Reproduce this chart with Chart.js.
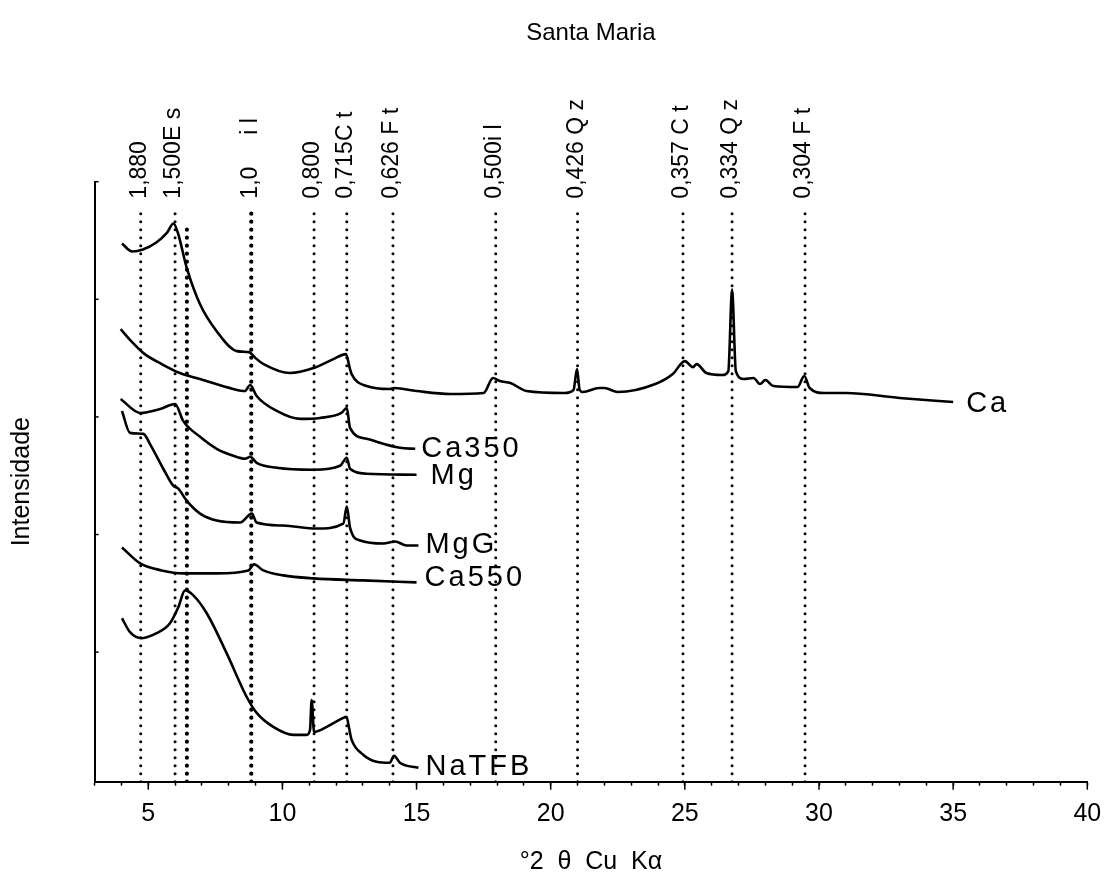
<!DOCTYPE html>
<html><head><meta charset="utf-8">
<script src="https://cdn.jsdelivr.net/npm/chart.js@4"></script>
<style>html,body{margin:0;padding:0;background:#fff}</style>
</head><body>
<canvas id="c" width="1112" height="889"></canvas>
<script>
// ---- data (2θ in degrees, intensity in arbitrary units) ----
const seriesNames = ['Ca', 'Ca350', 'Mg', 'MgG', 'Ca550', 'NaTFB'];

const caX = [4.02,4.4,4.8,5.3,5.7,5.94,6.1,6.44,6.93,7.55,8.3,8.75,8.86,9.0,9.3,10.29,11.16,11.9,12.37,12.5,12.58,13.14,14.0,14.17,15,16.25,17.5,17.85,18.1,18.5,19.1,20.5,20.85,20.98,21.08,21.2,21.8,22.0,22.5,23.9,24.55,25.0,25.3,25.44,25.8,26.4,26.62,26.76,26.9,27.2,27.56,27.8,28.0,28.3,29.2,29.45,29.65,30.2,31,33,35];
const caY = [528,520,522,529,539,548,539,503,467,440,420,419,417,413,407,398,403,412,417,404,397,385,382,383,380,377,378,393,390,388,380,378,381,402,381,379,383,383,379,387,397,410,404,407,398,396,400,482,400,392,393,387,391,385,384,395,383,378,378,373,369];

const ca350X = [3.97,4.4,4.82,5.5,6.18,6.93,8.17,8.6,8.8,9.04,9.79,10.66,11.4,12.2,12.4,12.52,13.14,14.38,14.95];
const ca350Y = [442,429,418,407,398,392,382,380,386,375,360,352,353,358,363,343,332,323,322];

const mgX = [3.97,4.7,5.44,6.0,6.3,6.93,7.55,8.17,8.6,8.8,9.04,9.79,11.16,12.15,12.4,12.52,13.14,15.0];
const mgY = [372,358,362,367,350,334,322,315,312,314,308,303,301,305,313,302,297,296];

const mggX = [4.02,4.32,4.82,5.06,5.56,5.93,6.12,6.43,6.93,7.55,8.42,8.86,9.04,10.03,11.28,12.27,12.4,12.52,12.9,13.76,14.2,14.63,15.07];
const mggY = [360,338,337,327,302,285,282,270,257,250,248,257,248,245,242,247,264,243,230,227,229,225,225];

const ca550X = [4.02,4.7,5.5,6.3,7.55,8.73,8.94,9.29,10.03,11.15,13,15.0];
const ca550Y = [223,207,200,197,197,200,206,200,195,192,190,188];

const natfbX = [4.02,4.32,4.76,5.31,5.81,6.12,6.37,6.68,7.18,7.92,8.67,9.04,9.66,10.41,10.9,11.03,11.09,11.18,11.65,12.27,12.37,12.58,13.01,13.51,14.0,14.16,14.38,15.07];
const natfbY = [152,138,132,137,147,163,180,175,157,117,73,57,43,35,35,40,70,38,43,52,53,30,15,8,7,14,7,2];

// reference reflections (2θ) and their labels (d in nm + mineral)
const refPositions = [4.72, 6.0, 6.44, 8.84, 11.18, 12.4, 14.12, 17.95, 21.0, 24.93, 26.76, 29.48];
const refLabels = ['1,880', '1,500E s', '', '1,0\u00a0\u00a0\u00a0\u00a0\u00a0i l', '0,800', '0,715C t', '0,626 F t', '0,500i l', '0,426 Q z', '0,357 C t', '0,334 Q z', '0,304 F t'];

const xMajorTicks = [5, 10, 15, 20, 25, 30, 35, 40];
const yTickValues = [118, 236, 354, 472, 590];

// ---- chart ----
const FONT = "'Liberation Sans', Arial, Helvetica, sans-serif";
Chart.defaults.font.family = FONT;
Chart.defaults.color = '#000';

const seriesX = [caX, ca350X, mgX, mggX, ca550X, natfbX];
const seriesY = [caY, ca350Y, mgY, mggY, ca550Y, natfbY];
const Y_MIN = -12, Y_MAX = 590;

const datasets = [];
refPositions.forEach((p, i) => {
  const heavy = (i === 2 || i === 3);
  datasets.push({
    label: 'ref' + i,
    data: [{x: p, y: Y_MIN}, {x: p, y: i === 2 ? 546 : 565}],
    borderColor: '#000', borderWidth: heavy ? 4.2 : 3,
    borderDash: [0, 8], borderCapStyle: 'round',
    pointRadius: 0, fill: false, tension: 0
  });
});
seriesNames.forEach((n, i) => {
  datasets.push({
    label: n,
    data: seriesX[i].map((x, k) => ({x, y: seriesY[i][k]})),
    borderColor: '#000', borderWidth: 2.6, borderJoinStyle: 'round',
    cubicInterpolationMode: 'monotone',
    pointRadius: 0, fill: false
  });
});

const labelOffsets = {Ca: [13, 2], Ca350: [6, 0], Mg: [14, 1], MgG: [7, 0], Ca550: [8, -4], NaTFB: [7, -1]};

const extras = {
  id: 'extras',
  afterDraw(chart) {
    const {ctx, chartArea: a, scales: {x, y}} = chart;
    ctx.save();
    ctx.strokeStyle = '#000';
    ctx.lineWidth = 1.5;
    xMajorTicks.forEach(v => {
      const px = x.getPixelForValue(v);
      ctx.beginPath(); ctx.moveTo(px, a.bottom); ctx.lineTo(px, a.bottom + 8); ctx.stroke();
    });
    yTickValues.forEach(v => {
      const py = y.getPixelForValue(v);
      ctx.beginPath(); ctx.moveTo(a.left, py); ctx.lineTo(a.left + 4, py); ctx.stroke();
    });
    ctx.fillStyle = '#000';
    ctx.font = '23px ' + FONT;
    ctx.textAlign = 'left';
    ctx.textBaseline = 'middle';
    refPositions.forEach((p, i) => {
      if (!refLabels[i]) return;
      ctx.save();
      ctx.translate(x.getPixelForValue(p) - 1, y.getPixelForValue(573));
      ctx.rotate(-Math.PI / 2);
      ctx.fillText(refLabels[i], 0, 0);
      ctx.restore();
    });
    ctx.font = '29px ' + FONT;
    ctx.letterSpacing = '3px';
    seriesNames.forEach((n, i) => {
      const xs = seriesX[i], ys = seriesY[i];
      const px = x.getPixelForValue(xs[xs.length - 1]);
      const py = y.getPixelForValue(ys[ys.length - 1]);
      const o = labelOffsets[n];
      ctx.fillText(n, px + o[0], py + o[1]);
    });
    ctx.restore();
  }
};

new Chart(document.getElementById('c'), {
  type: 'line',
  data: {datasets},
  plugins: [extras],
  options: {
    responsive: false,
    animation: false,
    events: [],
    layout: {padding: {left: 0, right: 24.7, top: 0, bottom: 0}},
    plugins: {
      legend: {display: false},
      tooltip: {enabled: false},
      title: {
        display: true, text: 'Santa Maria', fullSize: false,
        font: {size: 24, weight: 'normal'}, color: '#000',
        padding: {top: 18.6, bottom: 134.3}
      }
    },
    scales: {
      x: {
        type: 'linear', min: 3, max: 40,
        afterFit: s => { s.paddingRight = 0; s.paddingLeft = 0; s.height = 107.3; },
        ticks: {stepSize: 1, autoSkip: false, maxRotation: 0, padding: 16, font: {size: 25, lineHeight: 1.0},
          callback: v => (v % 5 === 0 ? String(v) : '')},
        grid: {drawOnChartArea: false, tickLength: 4, tickWidth: 1.5, tickColor: '#000'},
        border: {display: true, color: '#000', width: 2},
        title: {display: true, text: '°2  θ  Cu  Kα', font: {size: 25}, padding: {top: 4, bottom: 12}}
      },
      y: {
        type: 'linear', min: Y_MIN, max: Y_MAX,
        afterFit: s => { s.width = 94.6; },
        ticks: {display: false, stepSize: 118},
        grid: {drawOnChartArea: false, drawTicks: false},
        border: {display: true, color: '#000', width: 2},
        title: {display: true, text: 'Intensidade', font: {size: 25}, padding: {top: 7, bottom: 56}}
      }
    }
  }
});
</script>
</body></html>
